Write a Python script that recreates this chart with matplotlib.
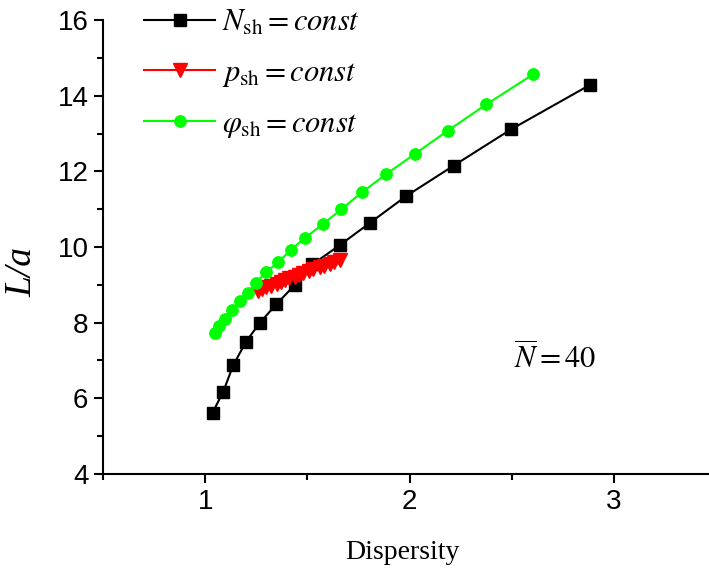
import matplotlib
matplotlib.use('Agg')
import matplotlib.pyplot as plt

# N_sh = const
x_n = [1.036, 1.088, 1.137, 1.199, 1.268, 1.349, 1.439, 1.525, 1.659, 1.807, 1.985, 2.216, 2.497, 2.885]
y_n = [5.62, 6.17, 6.87, 7.49, 8.00, 8.49, 9.00, 9.54, 10.05, 10.64, 11.35, 12.15, 13.11, 14.29]

# p_sh = const
x_p = [1.26, 1.28, 1.30, 1.32, 1.35, 1.37, 1.39, 1.41, 1.44, 1.46, 1.48, 1.51, 1.53, 1.56, 1.58, 1.61, 1.63, 1.66]
y_p = [8.84, 8.89, 8.93, 8.98, 9.03, 9.08, 9.12, 9.17, 9.22, 9.26, 9.31, 9.36, 9.41, 9.46, 9.50, 9.55, 9.60, 9.65]

# phi_sh = const
x_phi = [1.048, 1.069, 1.097, 1.129, 1.170, 1.211, 1.248, 1.297, 1.357, 1.419, 1.488, 1.577, 1.667,
         1.768, 1.887, 2.026, 2.186, 2.376, 2.604]
y_phi = [7.73, 7.91, 8.11, 8.33, 8.57, 8.79, 9.06, 9.33, 9.60, 9.92, 10.24, 10.61, 11.00,
         11.45, 11.93, 12.46, 13.07, 13.77, 14.56]

labels = [r'$N_\mathrm{sh} = const$', r'$p_\mathrm{sh} = const$', r'$\varphi_\mathrm{sh} = const$']

plt.rcParams['mathtext.fontset'] = 'stix'
plt.rcParams['font.family'] = 'Liberation Sans'

fig = plt.figure(figsize=(7.09, 5.69), dpi=100)
ax = fig.add_axes([103 / 709, 1 - 474 / 569, 613 / 709, 454 / 569])

ax.plot(x_n, y_n, '-', color='black', lw=1.5, marker='s', ms=8.4, label=labels[0])
ax.plot(x_p, y_p, '-', color='red', lw=1.5, marker='v', ms=9.5, label=labels[1])
ax.plot(x_phi, y_phi, '-', color='#00ff00', lw=1.5, marker='o', ms=8.2, label=labels[2])

ax.set_xlim(0.5, 3.5)
ax.set_ylim(4, 16)
ax.set_xticks([1, 2, 3])
ax.set_xticks([0.5, 1.5, 2.5, 3.5], minor=True)
ax.set_yticks([4, 6, 8, 10, 12, 14, 16])
ax.set_yticks([5, 7, 9, 11, 13, 15], minor=True)

for s in ['top', 'right']:
    ax.spines[s].set_visible(False)
for s in ['left', 'bottom']:
    ax.spines[s].set_linewidth(1.5)

ax.tick_params(which='major', direction='out', length=6.5, width=1.5, labelsize=20, pad=4)
ax.tick_params(which='minor', direction='out', length=4, width=1.5)

ax.set_xlabel('Dispersity', family='Liberation Serif', fontsize=20)
ax.xaxis.set_label_coords(0.489, -0.145)
ax.set_ylabel('L/a', family='Liberation Serif', style='italic', fontsize=27)
ax.yaxis.set_label_coords(-0.103, 0.445)

ax.text(2.51, 7.05, r'$\overline{N} = 40$', fontsize=22, ha='left', va='center')

ax.legend(loc='upper left', bbox_to_anchor=(141 / 709, 1 - 5 / 569), bbox_transform=fig.transFigure,
          frameon=False, fontsize=22, handlelength=2.32, handletextpad=0.23,
          borderpad=0, borderaxespad=0.1, labelspacing=0.65)

fig.savefig('out.png', dpi=100)
